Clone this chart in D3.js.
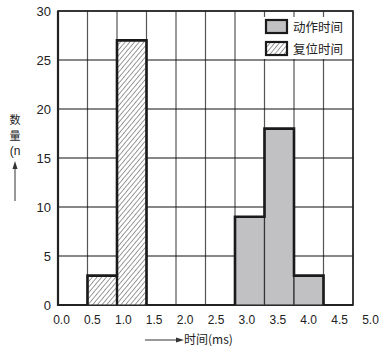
<!DOCTYPE html>
<html>
<head>
<meta charset="utf-8">
<script src="https://cdn.jsdelivr.net/npm/d3@7"></script>
<style>
  body { margin: 0; background: #fff; }
  svg text { font-family: "Liberation Sans", Arial, sans-serif; fill: #222; }
  .cjk { font-family: "Noto Sans CJK SC", sans-serif; }
</style>
</head>
<body>
<div id="chart"></div>
<script>
// bins in ms (start, end) and counts
const resetBins = [[0.5, 1.0], [1.0, 1.5]];
const resetCounts = [3, 27];
const actBins = [[3.0, 3.5], [3.5, 4.0], [4.0, 4.5]];
const actCounts = [9, 18, 3];
const xTicks = [0, 0.5, 1, 1.5, 2, 2.5, 3, 3.5, 4, 4.5, 5];
const yTicks = [0, 5, 10, 15, 20, 25, 30];
const legendNames = ["动作时间", "复位时间"];

const W = 380, H = 346;
const svg = d3.select("#chart").append("svg").attr("width", W).attr("height", H);

const defs = svg.append("defs");
const pat = defs.append("pattern")
  .attr("id", "hatch").attr("patternUnits", "userSpaceOnUse")
  .attr("width", 3.6).attr("height", 3.6)
  .attr("patternTransform", "rotate(40)");
pat.append("rect").attr("width", 3.6).attr("height", 3.6).attr("fill", "#fff");
pat.append("line").attr("x1", 0).attr("y1", 0).attr("x2", 0).attr("y2", 3.6)
  .attr("stroke", "#222").attr("stroke-width", 0.9);

const x = d3.scaleLinear().domain([0, 5]).range([58, 353]);
// the printed tick labels sit a little off the grid in the original
const xLab = d3.scaleLinear().domain([0, 5]).range([61, 370]);
const y = d3.scaleLinear().domain([0, 30]).range([305, 11]);

// grid
svg.append("g").selectAll("line").data(xTicks).join("line")
  .attr("x1", d => x(d)).attr("x2", d => x(d))
  .attr("y1", y(30)).attr("y2", y(0))
  .attr("stroke", "#555").attr("stroke-width", 1.2);
svg.append("g").selectAll("line").data(yTicks).join("line")
  .attr("x1", x(0)).attr("x2", x(5))
  .attr("y1", d => y(d)).attr("y2", d => y(d))
  .attr("stroke", "#111").attr("stroke-width", 1.2);

// frame
svg.append("rect").attr("x", x(0)).attr("y", y(30))
  .attr("width", x(5) - x(0)).attr("height", y(0) - y(30))
  .attr("fill", "none").attr("stroke", "#222").attr("stroke-width", 1.6);
svg.append("path")
  .attr("d", `M${x(0)},${y(30)}V${y(0)}H${x(5)}`)
  .attr("fill", "none").attr("stroke", "#222").attr("stroke-width", 2.2);

// bars
function drawGroup(bins, counts, fill) {
  const g = svg.append("g");
  g.selectAll("rect").data(bins).join("rect")
    .attr("x", d => x(d[0]))
    .attr("y", (d, i) => y(counts[i]))
    .attr("width", d => x(d[1]) - x(d[0]))
    .attr("height", (d, i) => y(0) - y(counts[i]))
    .attr("fill", fill).attr("stroke", "#333").attr("stroke-width", 1.2);
  // outer step outline
  let p = `M${x(bins[0][0])},${y(0)}`;
  bins.forEach((b, i) => { p += `V${y(counts[i])}H${x(b[1])}`; });
  p += `V${y(0)}`;
  g.append("path").attr("d", p).attr("fill", "none")
    .attr("stroke", "#1a1a1a").attr("stroke-width", 2.6);
}
drawGroup(resetBins, resetCounts, "url(#hatch)");
drawGroup(actBins, actCounts, "#c1c1c4");
// shared edge of the hatched bars is drawn heavy as well
svg.append("line")
  .attr("x1", x(resetBins[1][0])).attr("x2", x(resetBins[1][0]))
  .attr("y1", y(0)).attr("y2", y(resetCounts[0]))
  .attr("stroke", "#1a1a1a").attr("stroke-width", 2.4);

// axes labels
const xAxis = svg.append("g").attr("transform", `translate(0,${y(0) + 3})`)
  .call(d3.axisBottom(xLab).tickValues(xTicks).tickSize(0).tickFormat(d3.format(".1f")));
xAxis.select(".domain").remove();
xAxis.selectAll("text").attr("font-size", 12).attr("dy", "1.05em")
  .style("font-family", "Liberation Sans, Arial, sans-serif").attr("fill", "#222");

const yAxis = svg.append("g").attr("transform", `translate(${x(0) - 4},0)`)
  .call(d3.axisLeft(y).tickValues(yTicks).tickSize(0));
yAxis.select(".domain").remove();
yAxis.selectAll("text").attr("font-size", 13)
  .style("font-family", "Liberation Sans, Arial, sans-serif").attr("fill", "#222");

// legend
const lg = svg.append("g");
lg.append("rect").attr("x", 262).attr("y", 17).attr("width", 90).attr("height", 42).attr("fill", "#fff");
const items = [{ fill: "#c1c1c4", name: legendNames[0] }, { fill: "url(#hatch)", name: legendNames[1] }];
items.forEach((it, i) => {
  const yy = 20 + i * 22;
  lg.append("rect").attr("x", 266).attr("y", yy).attr("width", 21).attr("height", 13)
    .attr("fill", it.fill).attr("stroke", "#1a1a1a").attr("stroke-width", 2.2);
  lg.append("text").attr("class", "cjk").attr("x", 293).attr("y", yy + 11.5)
    .attr("font-size", 12.5).attr("fill", "#333").text(it.name);
});

// y title
const yt = svg.append("g");
["数", "量"].forEach((c, i) => {
  yt.append("text").attr("class", "cjk").attr("x", 15).attr("y", 124 + i * 15.5)
    .attr("text-anchor", "middle").attr("font-size", 11).attr("fill", "#333").text(c);
});
yt.append("text").attr("x", 15).attr("y", 155).attr("text-anchor", "middle")
  .attr("font-size", 12).attr("fill", "#333").text("(n");
yt.append("line").attr("x1", 15).attr("x2", 15).attr("y1", 201).attr("y2", 167)
  .attr("stroke", "#333").attr("stroke-width", 1);
yt.append("path").attr("d", "M15,161L12.5,169L17.5,169Z").attr("fill", "#333");

// x title
const xt = svg.append("g");
xt.append("line").attr("x1", 145).attr("x2", 177).attr("y1", 340).attr("y2", 340)
  .attr("stroke", "#333").attr("stroke-width", 1);
xt.append("path").attr("d", "M184,340L176,337.5L176,342.5Z").attr("fill", "#333");
xt.append("text").attr("class", "cjk").attr("x", 184).attr("y", 344)
  .attr("font-size", 12).attr("fill", "#333").text("时间(ms)");
</script>
</body>
</html>
